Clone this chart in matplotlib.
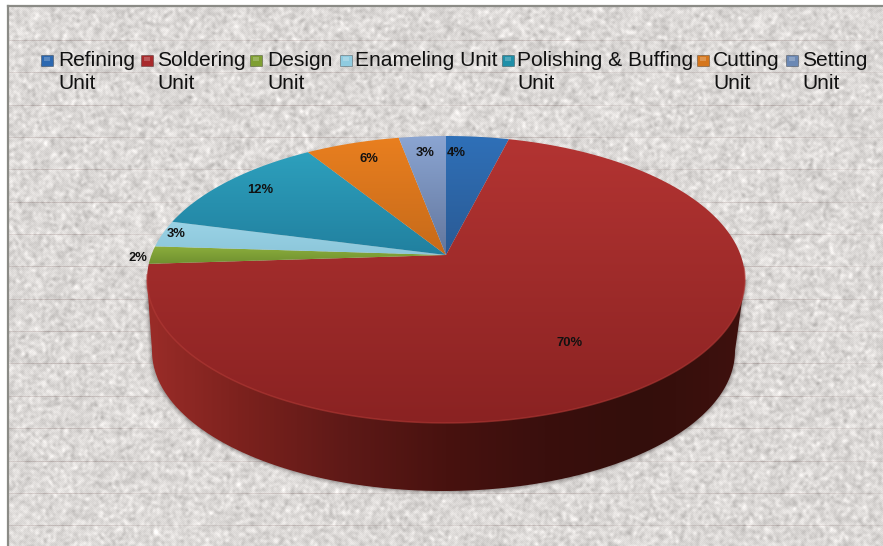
import numpy as np
import matplotlib
matplotlib.use('Agg')
import matplotlib.pyplot as plt
from matplotlib.colors import LinearSegmentedColormap
from matplotlib.patches import Polygon, Rectangle

plt.rcParams['font.family'] = ['Liberation Sans', 'DejaVu Sans']

units = ['Refining\nUnit', 'Soldering\nUnit', 'Design\nUnit', 'Enameling Unit',
         'Polishing & Buffing\nUnit', 'Cutting\nUnit', 'Setting\nUnit']
shares = [4, 70, 2, 3, 12, 6, 3]
top_colors = ['#2f70b8', '#b33432', '#8cae3c', '#9ad3e6', '#2da0bd', '#e97f1f', '#8ba5d2']
low_colors = ['#2a5a94', '#8a2222', '#6f9030', '#8cc6da', '#21809f', '#c66a1a', '#62769d']
marker_colors = ['#2c68b0', '#a82a2c', '#7f9f32', '#8fcbe0', '#1f8fa8', '#d5761c', '#6b88b4']

legend_marker_x = [41, 141, 250, 340, 502, 697, 786]
legend_text_x = [58, 157, 267, 355, 517, 713, 802]
label_xy = [(456, 153), (570, 343), (138, 258), (176, 234), (260, 190), (369, 159), (425, 153)]

# pie geometry, in pixels
cx, cy = 446, 255
R, H, k = 294.6, 139.3, 0.1706


def project(t):
    # t is clockwise from the back of the pie, the tilt gives the perspective
    u, v = np.sin(t), np.cos(t)
    d = 1 + k * v
    return cx + R * u / d, cy - H * v / d


def grad_fill(ax, poly, c0, c1, extent, horizontal=False):
    cmap = LinearSegmentedColormap.from_list('g', [c0, c1])
    g = np.linspace(0, 1, 256)
    g = g.reshape(1, -1) if horizontal else g.reshape(-1, 1)
    im = ax.imshow(g, cmap=cmap, extent=extent, aspect='auto', zorder=poly.get_zorder(),
                   interpolation='bilinear')
    ax.add_patch(poly)
    poly.set_visible(False)
    im.set_clip_path(poly)
    return im


def texture(w, h):
    rng = np.random.default_rng(7)
    n = rng.normal(0, 1, (h, w))
    f = np.fft.fft2(n)
    fy = np.fft.fftfreq(h)[:, None]
    fx = np.fft.fftfreq(w)[None, :]
    blob = np.fft.ifft2(f * np.exp(-(fx ** 2 + fy ** 2) * 2 * (np.pi * 1.3) ** 2)).real
    blob = blob / blob.std()
    yy, xx = np.mgrid[0:h, 0:w]
    dots = ((xx + yy) % 2) * 2.0 - 1.0
    gray = 218 + blob * 9 + dots * 3
    img = np.dstack([gray + 2, gray - 1, gray - 3])
    # faint ruled lines of the paper
    for y in np.arange(40, h + 6, 32.35):
        row = int(round(y)) - 6
        if 0 <= row < h:
            img[row, :, :] -= np.array([24, 30, 30]) * (0.7 + 0.3 * np.sin(xx[0] / 37.0))[:, None]
    return np.clip(img, 0, 255).astype(np.uint8)


fig = plt.figure(figsize=(8.83, 5.46), dpi=100, facecolor='white')
ax = fig.add_axes([0, 0, 1, 1])
ax.set_xlim(0, 883)
ax.set_ylim(546, 0)
ax.axis('off')

ax.imshow(texture(875, 540), extent=(8, 883, 546, 6), aspect='auto', zorder=0, interpolation='nearest')
ax.plot([8, 8], [6, 546], color='#8b8b86', lw=1.6, zorder=1)
ax.plot([8, 883], [6, 6], color='#8b8b86', lw=1.6, zorder=1)

# side wall, top rim to a slightly narrower bottom rim
s = np.linspace(-np.pi / 2, np.pi / 2, 200)
rim_x = 443.5 + 291.5 * np.sin(s)
rim_y = 351 + 140 * np.cos(s)
wall = np.vstack([[[147, 280]], np.column_stack([rim_x, rim_y]), [[745, 280]]])
for grow, a in [(4, 0.05), (3, 0.07), (2, 0.1), (1, 0.14)]:
    shadow = wall.copy()
    shadow[:, 0] = 446 + (shadow[:, 0] - 446) * (1 + grow / 298)
    shadow[:, 1] = 300 + (shadow[:, 1] - 300) * (1 + grow / 190)
    ax.add_patch(Polygon(shadow, closed=True, fc='#3a3030', ec='none', alpha=a, zorder=2))
cmap_wall = LinearSegmentedColormap.from_list(
    'wall', ['#9a2c28', '#7a211d', '#5e1917', '#48120f', '#3a0f0d', '#330e0b', '#3f110e'])
g = np.linspace(0, 1, 400).reshape(1, -1)
wall_im = ax.imshow(g, cmap=cmap_wall, extent=(147, 745, 491, 280), aspect='auto', zorder=3)
wall_patch = Polygon(wall, closed=True, fc='none', ec='none', zorder=3)
ax.add_patch(wall_patch)
wall_im.set_clip_path(wall_patch)

# slices of the top face
edges = np.radians(np.cumsum([0] + shares) * 3.6)
for i in range(len(shares)):
    t = np.linspace(edges[i], edges[i + 1], 240)
    x, y = project(t)
    pts = np.vstack([[[cx, cy]], np.column_stack([x, y])])
    poly = Polygon(pts, closed=True, zorder=4)
    extent = (pts[:, 0].min(), pts[:, 0].max(), pts[:, 1].max(), pts[:, 1].min())
    grad_fill(ax, poly, top_colors[i], low_colors[i], extent)

# lighter bevel on the front rim of the big slice
t = np.linspace(np.radians(95), np.radians(262), 300)
x, y = project(t)
ax.plot(x, y, color='#b23a36', lw=1.1, alpha=0.6, zorder=5)

for i, name in enumerate(units):
    mx = legend_marker_x[i]
    ax.add_patch(Rectangle((mx, 54.5), 12, 11, fc=marker_colors[i], ec='#00000055', lw=0.6, zorder=6))
    ax.add_patch(Rectangle((mx + 3, 57), 6, 4, fc='white', ec='none', alpha=0.22, zorder=7))
    ax.text(legend_text_x[i], 50.5, name, fontsize=15.1, color='#111111', ha='left', va='top',
            linespacing=1.28, zorder=7)

for (lx, ly), val in zip(label_xy, shares):
    ax.text(lx, ly, f'{val}%', fontsize=9.4, fontweight='bold', color='#111111',
            ha='center', va='center', zorder=7)

fig.savefig('out.png', dpi=100, facecolor='white')
